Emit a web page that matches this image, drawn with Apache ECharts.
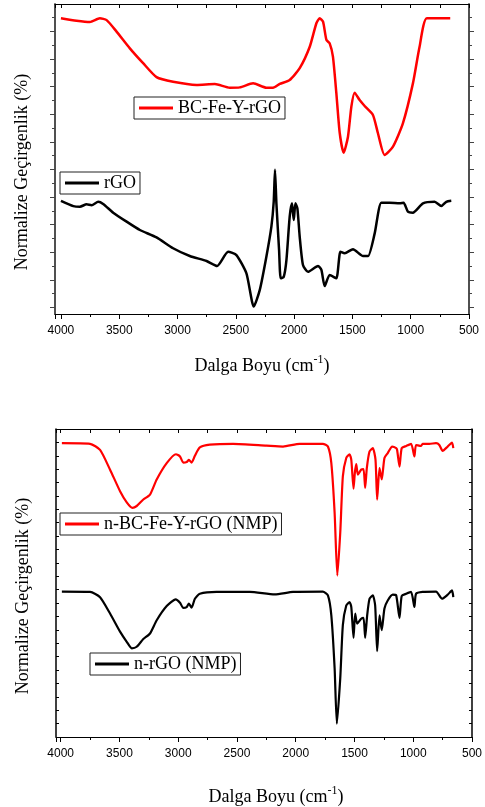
<!DOCTYPE html>
<html>
<head>
<meta charset="utf-8">
<script src="https://cdn.jsdelivr.net/npm/echarts@6/dist/echarts.min.js"></script>
<style>
  html, body { margin: 0; padding: 0; background: #fff; }
  #chart { width: 485px; height: 807px; }
</style>
</head>
<body>
<div id="chart"></div>
<script>
// ust grafik: BC-Fe-Y-rGO ve rGO
const wnBC = [4000, 3866, 3751, 3666, 3608, 3523, 3409, 3295, 3180, 3038, 2837, 2680, 2552, 2466, 2352, 2238, 2181, 2123, 2038, 1952, 1866, 1809, 1781, 1752, 1723, 1695, 1667, 1638, 1609, 1575, 1538, 1509, 1481, 1438, 1395, 1324, 1281, 1224, 1152, 1067, 981, 924, 861, 661];
const tBC = [95.4, 94.6, 94.2, 95.4, 94.8, 91.1, 85.7, 80.9, 76.4, 74.9, 73.9, 74.2, 73.0, 73.1, 74.4, 73.0, 73.0, 74.2, 75.5, 79.3, 86.2, 93.8, 95.4, 94.3, 88.4, 87.3, 83.0, 71.3, 58.4, 52.0, 57.2, 66.9, 71.4, 69.0, 67.1, 64.2, 58.3, 51.3, 54.0, 61.5, 74.4, 86.2, 95.4, 95.4];

const wnRGO = [4000, 3894, 3837, 3780, 3737, 3680, 3638, 3552, 3437, 3323, 3180, 3038, 2895, 2751, 2661, 2566, 2495, 2409, 2346, 2295, 2238, 2195, 2175, 2164, 2152, 2129, 2115, 2089, 2066, 2038, 2018, 2003, 1989, 1972, 1952, 1924, 1881, 1795, 1766, 1738, 1695, 1638, 1603, 1566, 1495, 1409, 1366, 1309, 1252, 1181, 1095, 1061, 1024, 981, 895, 795, 738, 695, 652];
const tRGO = [36.5, 34.8, 34.6, 35.4, 35.1, 36.2, 35.5, 32.7, 29.8, 27.1, 24.7, 21.2, 18.7, 17.1, 15.5, 20.1, 19.0, 13.1, 2.4, 7.7, 18.5, 28.2, 36.2, 46.5, 35.7, 20.6, 11.5, 12.0, 17.4, 31.4, 35.7, 30.3, 35.7, 34.1, 24.9, 15.8, 13.6, 15.5, 14.2, 9.0, 12.6, 11.5, 20.1, 19.6, 20.9, 18.7, 18.7, 26.0, 35.9, 35.9, 35.7, 35.9, 33.0, 32.7, 35.7, 36.2, 34.8, 36.2, 36.5];

// alt grafik: NMP ornekleri
const wnNBC = [3990, 3750, 3665, 3580, 3495, 3438, 3390, 3353, 3297, 3240, 3183, 3098, 3019, 2985, 2957, 2928, 2909, 2886, 2858, 2816, 2731, 2533, 2249, 2108, 1966, 1769, 1726, 1697, 1669, 1646, 1621, 1599, 1570, 1542, 1527, 1508, 1497, 1485, 1471, 1443, 1423, 1409, 1395, 1372, 1344, 1321, 1307, 1287, 1268, 1245, 1217, 1179, 1145, 1137, 1117, 1098, 1060, 1018, 990, 976, 933, 920, 863, 806, 778, 750, 707, 670, 659];
const tNBC = [95.4, 95.2, 93.2, 86.8, 79.8, 76.2, 74.4, 75.0, 77.1, 78.7, 83.6, 88.9, 91.8, 91.1, 89.1, 89.3, 90.0, 89.1, 91.3, 94.0, 94.9, 95.2, 94.6, 94.3, 95.2, 95.2, 94.3, 88.9, 72.8, 52.4, 66.4, 84.6, 90.6, 91.8, 90.0, 80.6, 85.7, 88.6, 85.2, 86.8, 87.0, 80.9, 87.3, 92.7, 93.8, 90.0, 77.1, 87.3, 83.6, 90.6, 92.2, 94.3, 93.8, 93.2, 87.8, 93.8, 94.5, 95.2, 91.1, 94.8, 94.5, 95.2, 95.2, 95.4, 94.8, 92.9, 94.3, 95.6, 93.8];

const wnNRGO = [3990, 3750, 3665, 3580, 3495, 3438, 3395, 3353, 3297, 3240, 3183, 3098, 3022, 2985, 2957, 2928, 2909, 2886, 2858, 2816, 2674, 2391, 2179, 2023, 1769, 1726, 1697, 1669, 1650, 1621, 1599, 1570, 1542, 1527, 1508, 1494, 1477, 1443, 1423, 1409, 1392, 1372, 1344, 1324, 1307, 1287, 1268, 1245, 1217, 1174, 1145, 1117, 1098, 1060, 1018, 990, 976, 920, 806, 755, 707, 670, 659];
const tNRGO = [47.2, 47.1, 45.4, 40.1, 34.2, 30.9, 28.8, 29.3, 31.8, 33.6, 37.9, 42.5, 44.7, 43.6, 41.9, 42.2, 43.3, 42.0, 44.9, 46.5, 47.1, 47.1, 46.3, 47.1, 47.2, 46.0, 39.5, 22.3, 4.3, 19.1, 36.3, 42.7, 43.8, 42.2, 32.2, 40.1, 36.8, 38.4, 38.7, 32.2, 39.5, 44.9, 46.0, 42.7, 27.9, 39.5, 34.7, 41.7, 44.3, 46.2, 46.0, 38.7, 45.8, 46.5, 47.1, 42.2, 46.5, 47.1, 47.2, 44.9, 46.2, 47.6, 45.4];

const names = ['BC-Fe-Y-rGO', 'rGO', 'n-BC-Fe-Y-rGO (NMP)', 'n-rGO (NMP)'];
const xName = '{a|Dalga Boyu (cm}{s|-1}{a|)}';
const yName = 'Normalize Geçirgenlik (%)';

function zip(xs, ys) {
  return xs.map(function (x, i) { return [x, ys[i]]; });
}

// ust grafigin y tikleri tam kenarda degil
const majTop = [], minTop = [];
for (let k = 0; k < 12; k++) {
  majTop.push(2.13 + 8.9 * k);
  if (k < 11) minTop.push(6.58 + 8.9 * k);
}

const serif = 'Liberation Serif, Times New Roman, serif';
const sans = 'Liberation Sans, Arial, sans-serif';

const nameStyle = {
  color: '#000',
  fontFamily: serif,
  rich: {
    a: { fontFamily: serif, fontSize: 18, color: '#000', lineHeight: 24 },
    s: { fontFamily: serif, fontSize: 12, color: '#000', verticalAlign: 'top', lineHeight: 12 }
  }
};

function bottomX(gridIndex, min, gap, pad) {
  return {
    type: 'value', gridIndex: gridIndex, inverse: true,
    min: 500, max: min, interval: 500,
    name: xName, nameLocation: 'middle', nameGap: gap,
    nameTextStyle: Object.assign({ padding: pad }, nameStyle),
    axisLine: { show: true, onZero: false, lineStyle: { color: '#000', width: 1 } },
    axisTick: { show: true, inside: false, length: 5, lineStyle: { color: '#000' } },
    minorTick: { show: true, splitNumber: 2, length: 3, lineStyle: { color: '#000' } },
    axisLabel: {
      color: '#000', fontFamily: sans, fontSize: 12, margin: 11, showMaxLabel: false,
      formatter: function (v) { return String(v); }
    },
    splitLine: { show: false }
  };
}

function topX(gridIndex, min) {
  return {
    type: 'value', gridIndex: gridIndex, inverse: true, position: 'top',
    min: 500, max: min, interval: 500,
    axisLine: { show: true, onZero: false, lineStyle: { color: '#000', width: 1 } },
    axisTick: { show: true, inside: true, length: 4, lineStyle: { color: '#000' } },
    minorTick: { show: true, splitNumber: 2, length: 4, lineStyle: { color: '#000' } },
    axisLabel: { show: false },
    splitLine: { show: false }
  };
}

function yAx(gridIndex, pos, ticks, len, inside, lineColor, withName) {
  const ax = {
    type: 'value', gridIndex: gridIndex, position: pos,
    min: 0, max: 100,
    axisLine: { show: true, onZero: false, lineStyle: { color: lineColor, width: 1.5 } },
    axisTick: { show: true, inside: inside, length: len, customValues: ticks, lineStyle: { color: lineColor } },
    axisLabel: { show: false },
    splitLine: { show: false }
  };
  if (withName) {
    ax.name = yName;
    ax.nameLocation = 'middle';
    ax.nameGap = 24;
    ax.nameTextStyle = { color: '#000', fontFamily: serif, fontSize: 18, padding: [0, 26, 0, 0] };
  }
  return ax;
}

const majBot = [];
for (let k = 0; k <= 23; k++) majBot.push(100 * k / 23);

function legendBox(name, left, top) {
  return {
    data: [name], left: left, top: top,
    orient: 'horizontal', selectedMode: false,
    icon: 'rect',
    borderColor: '#222', borderWidth: 1, borderRadius: 0,
    padding: [2, 4, 2, 5], itemWidth: 34, itemHeight: 3, itemGap: 0,
    backgroundColor: '#fff',
    textStyle: { color: '#000', fontFamily: serif, fontSize: 18, lineHeight: 18 }
  };
}

function line(name, data, color, xi, yi, w) {
  return {
    name: name, type: 'line', data: data,
    xAxisIndex: xi, yAxisIndex: yi,
    showSymbol: false, symbol: 'none', smooth: 0.2,
    lineStyle: { color: color, width: w },
    itemStyle: { color: color },
    animation: false
  };
}

const chart = echarts.init(document.getElementById('chart'));
chart.setOption({
  animation: false,
  backgroundColor: '#fff',
  grid: [
    { left: 55, right: 16, top: 4, height: 310 },
    { left: 56, right: 12, top: 429, height: 310 }
  ],
  legend: [
    legendBox(names[0], 134, 97),
    legendBox(names[1], 60, 172),
    legendBox(names[2], 60, 513),
    legendBox(names[3], 90, 653)
  ],
  xAxis: [
    bottomX(0, 4051, 40, [0, 0, 0, 0]),
    topX(0, 4051),
    bottomX(1, 4040, 48, [0, 0, 0, 24]),
    topX(1, 4040)
  ],
  yAxis: [
    yAx(0, 'left', majTop, 5, false, '#444', true),
    yAx(0, 'left', minTop, 3, false, '#444', false),
    yAx(0, 'right', majTop, 5, false, '#444', false),
    yAx(0, 'right', minTop, 3, false, '#444', false),
    yAx(1, 'left', majBot, 3, true, '#000', true),
    yAx(1, 'right', majBot, 3, true, '#000', false)
  ],
  series: [
    line(names[0], zip(wnBC, tBC), '#ff0000', 0, 0, 2.5),
    line(names[1], zip(wnRGO, tRGO), '#000000', 0, 0, 2.5),
    line(names[2], zip(wnNBC, tNBC), '#ff0000', 2, 4, 2.2),
    line(names[3], zip(wnNRGO, tNRGO), '#000000', 2, 4, 2.2)
  ]
});
</script>
</body>
</html>
